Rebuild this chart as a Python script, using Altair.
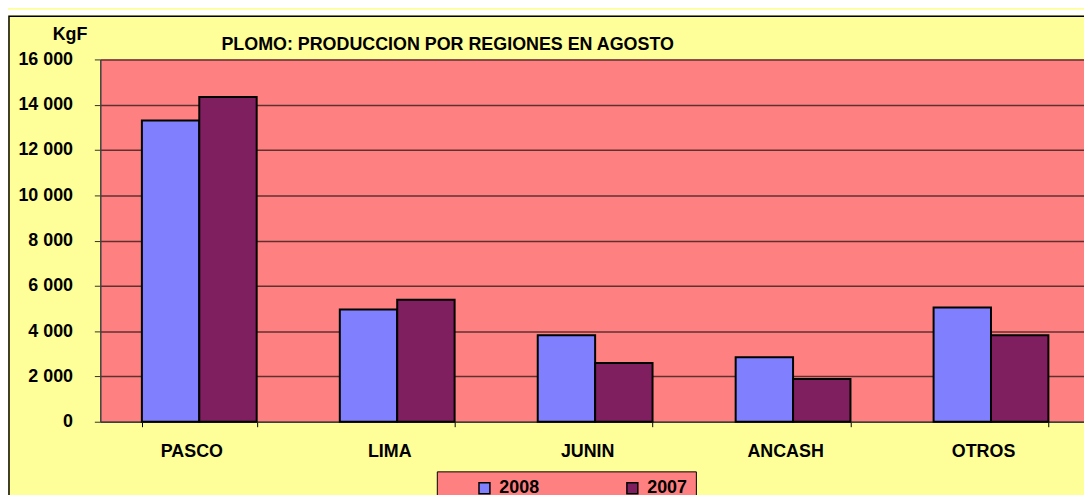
import altair as alt
import pandas as pd

regions = ["PASCO", "LIMA", "JUNIN", "ANCASH", "OTROS"]
years = ["2008", "2007"]
v2008 = [13300, 4960, 3820, 2850, 5040]
v2007 = [14340, 5390, 2590, 1890, 3820]
y_ticks = [0, 2000, 4000, 6000, 8000, 10000, 12000, 14000, 16000]
colors = ["#8080FF", "#7F1F5F"]
title_text = "PLOMO: PRODUCCION POR REGIONES EN AGOSTO"

rows = []
for i, r in enumerate(regions):
    rows.append({"region": r, "year": "2008", "value": v2008[i]})
    rows.append({"region": r, "year": "2007", "value": v2007[i]})
df = pd.DataFrame(rows)

W, H = 997, 365
FONT = "Liberation Sans"

bars = alt.Chart(df).mark_bar(stroke="black", strokeWidth=2).encode(
    x=alt.X("region:N", sort=regions, title=None,
            scale=alt.Scale(paddingInner=0.42, paddingOuter=0.21),
            axis=alt.Axis(labelAngle=0, tickBand="extent", labelOffset=-8,
                          labelFont=FONT, labelFontSize=18, labelFontWeight="bold",
                          labelColor="black", labelPadding=16, tickSize=5,
                          tickColor="black", domainColor="#404040", domainWidth=1.5,
                          grid=False)),
    xOffset=alt.XOffset("year:N", sort=years,
                        scale=alt.Scale(paddingInner=0, paddingOuter=0)),
    y=alt.Y("value:Q", scale=alt.Scale(domain=[0, 16000], nice=False),
            axis=alt.Axis(values=y_ticks, title="KgF", titleAngle=0,
                          titleX=-31, titleY=-20, titleAlign="center",
                          titleBaseline="alphabetic", titleFont=FONT,
                          titleFontSize=18, titleFontWeight="bold", titleColor="black",
                          labelExpr="replace(format(datum.value, ','), ',', ' ')",
                          labelFont=FONT, labelFontSize=18, labelFontWeight="bold",
                          labelColor="black", labelPadding=22, tickSize=6,
                          tickColor="#303030", domainColor="#404040", domainWidth=1.5,
                          gridColor="#603030", gridWidth=1.5)),
    color=alt.Color("year:N", sort=years,
                    scale=alt.Scale(domain=years, range=colors),
                    legend=alt.Legend(title=None, orient="none", legendX=339, legendY=415,
                                      direction="horizontal", fillColor="#FF8080",
                                      strokeColor="black", padding=8,
                                      symbolType="square", symbolSize=121,
                                      symbolStrokeColor="black", symbolStrokeWidth=1.5,
                                      symbolOffset=31, columnPadding=53, labelOffset=6,
                                      labelFont=FONT, labelFontSize=18,
                                      labelFontWeight="bold", labelColor="black")),
)

frame_df = pd.DataFrame({"k": [0]})
top_strip = alt.Chart(frame_df).mark_rect(fill="white").encode(
    x=alt.value(-93), x2=alt.value(W + 10), y=alt.value(-50), y2=alt.value(-44.5)
)
frame = alt.Chart(frame_df).mark_rect(fill="transparent", stroke="black", strokeWidth=1.5).encode(
    x=alt.value(-92), x2=alt.value(W + 40), y=alt.value(-43.5), y2=alt.value(H + 200)
)
title = alt.Chart(frame_df).mark_text(
    text=title_text, font=FONT, fontSize=18, fontWeight="bold", color="black",
    align="left", baseline="alphabetic"
).encode(x=alt.value(122), y=alt.value(-10))

chart = alt.layer(bars, top_strip, frame, title).properties(
    width=W, height=H,
    autosize=alt.AutoSizeParams(type="none"),
    padding={"left": 93, "top": 50, "right": -6, "bottom": 72},
    background="#FFFF99",
).configure_view(fill="#FF8080", strokeWidth=0)

chart.save("out.html", embed_options={"renderer": "svg", "actions": False})
